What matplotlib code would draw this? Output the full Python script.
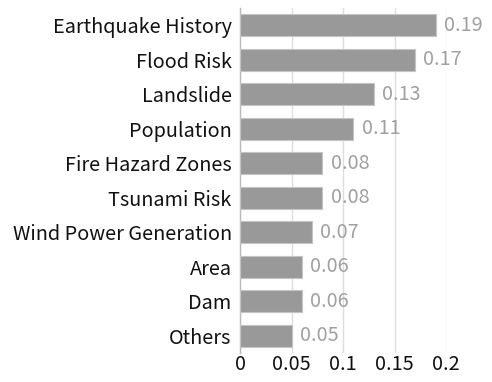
import matplotlib
matplotlib.use("Agg")
import matplotlib.pyplot as plt

categories = ["Earthquake History", "Flood Risk", "Landslide", "Population",
              "Fire Hazard Zones", "Tsunami Risk", "Wind Power Generation",
              "Area", "Dam", "Others"]
values = [0.19, 0.17, 0.13, 0.11, 0.08, 0.08, 0.07, 0.06, 0.06, 0.05]
value_labels = ["0.19", "0.17", "0.13", "0.11", "0.08", "0.08", "0.07", "0.06", "0.06", "0.05"]
xticks = [0, 0.05, 0.1, 0.15, 0.2]
xtick_labels = ["0", "0.05", "0.1", "0.15", "0.2"]

plt.rcParams['font.family'] = ['Noto Sans CJK JP', 'DejaVu Sans']
FS = 14.3

fig = plt.figure(figsize=(4.92, 3.82), dpi=100)
ax = fig.add_axes([240/492, 29/382, 206/492, 345/382])

ypos = list(range(len(categories)))
ax.barh(ypos, values, height=0.65, color="#999999", edgecolor="#c4c4c4", linewidth=0.8, zorder=3)
for y, v, lab in zip(ypos, values, value_labels):
    ax.text(v + 0.008, y, lab, va="center", ha="left", fontsize=FS, color="#a0a0a0")

ax.set_ylim(len(categories) - 0.5, -0.5)
ax.set_xlim(0, 0.2)
ax.set_yticks(ypos)
ax.set_yticklabels(categories, fontsize=FS, color="#111111")
ax.set_xticks(xticks)
ax.set_xticklabels(xtick_labels, fontsize=FS, color="#111111")
ax.tick_params(axis="y", length=0, pad=6)
ax.tick_params(axis="x", length=0, pad=1)
ax.grid(axis="x", color="#dddddd", linewidth=1, zorder=0)
for s in ["top", "right", "bottom"]:
    ax.spines[s].set_visible(False)
ax.spines["left"].set_color("#bbbbbb")
ax.spines["left"].set_linewidth(1)

fig.savefig("out.png", dpi=100)
